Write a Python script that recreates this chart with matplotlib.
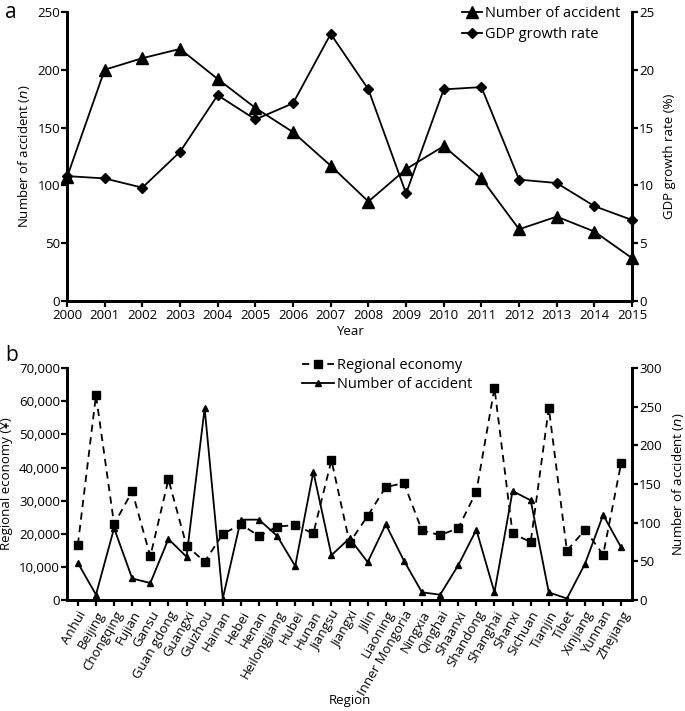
import numpy as np
import matplotlib
matplotlib.use("Agg")
import matplotlib.pyplot as plt
from matplotlib.ticker import FuncFormatter

plt.rcParams.update({
    'font.family': ['Open Sans', 'DejaVu Sans'],
    'font.size': 9.5,
    'axes.linewidth': 2.0,
    'xtick.major.width': 1.6,
    'ytick.major.width': 1.6,
    'xtick.major.size': 4,
    'ytick.major.size': 4,
    'xtick.direction': 'out',
    'ytick.direction': 'out',
})

# ---- panel a data ----
years = list(range(2000, 2016))
accidents_year = [107, 200, 210, 218, 192, 167, 146, 117, 86, 114, 134, 106, 62, 73, 60, 37]
gdp_growth = [10.8, 10.6, 9.8, 12.9, 17.8, 15.7, 17.1, 23.1, 18.3, 9.3, 18.3, 18.5, 10.5, 10.2, 8.2, 7.0]

# ---- panel b data ----
regions = ['Anhui', 'Beijing', 'Chongqing', 'Fujian', 'Gansu', 'Guan gdong', 'Guangxi',
           'Guizhou', 'Hainan', 'Hebei', 'Henan', 'Heilongjiang', 'Hubei', 'Hunan',
           'Jiangsu', 'Jiangxi', 'Jilin', 'Liaoning', 'Inner Mongoria', 'Ningxia',
           'Qinghai', 'Shaanxi', 'Shandong', 'Shanghai', 'Shanxi', 'Sichuan', 'Tianjin',
           'Tibet', 'Xinjiang', 'Yunnan', 'Zhejiang']
regional_economy = [16700, 61800, 22900, 32800, 13200, 36400, 16400, 11600, 19900,
                    22900, 19300, 22200, 22600, 20100, 42200, 17300, 25400, 34100,
                    35300, 21000, 19600, 21700, 32700, 64000, 20100, 17500, 58000,
                    14900, 21200, 13700, 41500]
accidents_region = [48, 7, 93, 28, 22, 79, 56, 248, 2, 104, 104, 83, 44, 166, 58, 80,
                    49, 98, 51, 10, 7, 45, 91, 10, 141, 129, 10, 2, 47, 110, 68]

fig = plt.figure(figsize=(6.85, 7.11), dpi=100)

# ================= panel a =================
ax1 = fig.add_axes([0.0978, 0.5767, 0.825, 0.4065])
ax2 = ax1.twinx()

l1, = ax1.plot(years, accidents_year, color='black', lw=1.3, marker='^', ms=8,
               label='Number of accident', clip_on=False, zorder=3)
l2, = ax2.plot(years, gdp_growth, color='black', lw=1.3, marker='D', ms=5.5,
               label='GDP growth rate', clip_on=False, zorder=3)

ax1.set_xlim(2000, 2015)
ax1.set_ylim(0, 250)
ax2.set_ylim(0, 25)
ax1.set_xticks(years)
ax1.set_yticks(range(0, 251, 50))
ax2.set_yticks(range(0, 26, 5))
ax1.set_xlabel('Year', labelpad=2)
ax1.set_ylabel('Number of accident ($\\mathit{n}$)', labelpad=4)
ax2.set_ylabel('GDP growth rate (%)', labelpad=6)
for ax in (ax1, ax2):
    ax.spines['top'].set_visible(False)
ax1.tick_params(axis='x', pad=2)
ax1.tick_params(axis='y', pad=1)
ax2.tick_params(axis='y', pad=1)
ax1.legend(handles=[l1, l2], loc='upper right', bbox_to_anchor=(0.99, 1.04),
           frameon=False, handlelength=1.4, handletextpad=0.2, borderaxespad=0,
           labelspacing=0.4, fontsize=10.5)
fig.text(0.008, 0.975, 'a', fontsize=15)

# ================= panel b =================
x = np.arange(len(regions))
bx1 = fig.add_axes([0.0978, 0.156, 0.825, 0.3263])
bx2 = bx1.twinx()

m1, = bx1.plot(x, regional_economy, color='black', lw=1.3, ls=(0, (4, 3)), marker='s',
               ms=6, label='Regional economy', zorder=3)
m2, = bx2.plot(x, accidents_region, color='black', lw=1.3, marker='^', ms=5,
               label='Number of accident', zorder=3)

bx1.set_xlim(-0.6, 30.6)
bx1.set_ylim(0, 70000)
bx2.set_ylim(0, 300)
bx1.set_yticks(range(0, 70001, 10000))
bx2.set_yticks(range(0, 301, 50))
bx1.yaxis.set_major_formatter(FuncFormatter(lambda v, p: f'{int(v):,}'))
bx1.set_xticks(x)
bx1.set_xticklabels(regions, rotation=60, ha='right', rotation_mode='anchor')
bx1.tick_params(axis='x', pad=2)
bx1.tick_params(axis='y', pad=1)
bx2.tick_params(axis='y', pad=1)
bx1.set_xlabel('Region', labelpad=-3)
bx1.set_ylabel('Regional economy (¥)', labelpad=4)
bx2.set_ylabel('Number of accident ($\\mathit{n}$)', labelpad=6)
for ax in (bx1, bx2):
    ax.spines['top'].set_visible(False)
bx1.legend(handles=[m1, m2], loc='upper left', bbox_to_anchor=(0.405, 1.07),
           frameon=False, handlelength=2.2, handletextpad=0.2, borderaxespad=0,
           labelspacing=0.3, fontsize=10.5)
fig.text(0.008, 0.492, 'b', fontsize=15)

fig.savefig('out.png', dpi=100)
